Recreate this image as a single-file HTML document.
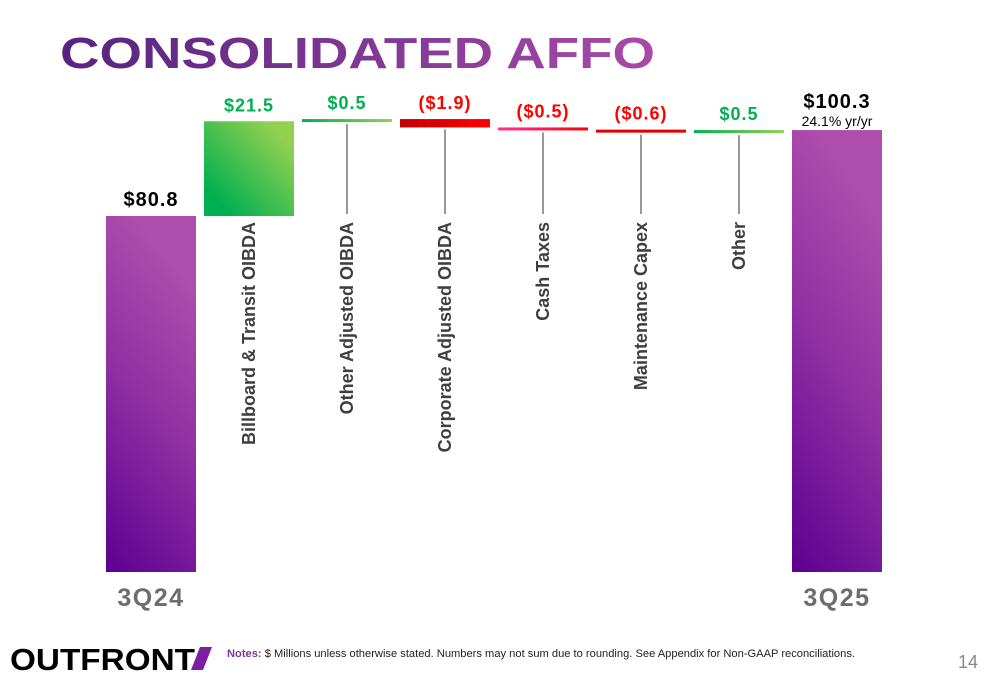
<!DOCTYPE html>
<html><head><meta charset="utf-8"><style>
html,body{margin:0;padding:0;background:#fff;width:1000px;height:685px;overflow:hidden}
svg{display:block}
</style></head><body>
<svg id="chart" width="1000" height="685" xmlns="http://www.w3.org/2000/svg" font-family="Liberation Sans, sans-serif">
<defs>
<linearGradient id="tg" x1="0" x2="1" y1="0" y2="0"><stop offset="0" stop-color="#55247e"/><stop offset="1" stop-color="#a84aa8"/></linearGradient>
<linearGradient id="pg" x1="0.3" y1="0" x2="0" y2="1"><stop offset="0" stop-color="#ad4eac"/><stop offset="0.45" stop-color="#8f2fa3"/><stop offset="1" stop-color="#5c0090"/></linearGradient>
<linearGradient id="gg" x1="1" y1="0" x2="0" y2="1"><stop offset="0.15" stop-color="#92d050"/><stop offset="0.85" stop-color="#00b050"/></linearGradient>
<linearGradient id="gl" x1="0" x2="1"><stop offset="0" stop-color="#00b050"/><stop offset="1" stop-color="#92d050"/></linearGradient>
<linearGradient id="rg" x1="0" x2="1"><stop offset="0" stop-color="#c00000"/><stop offset="1" stop-color="#ff0000"/></linearGradient>
<linearGradient id="pk" x1="0" x2="1"><stop offset="0" stop-color="#ff3399"/><stop offset="1" stop-color="#ff0000"/></linearGradient>
</defs>
<text x="60" y="68" font-size="44" font-weight="bold" fill="url(#tg)" textLength="595" lengthAdjust="spacingAndGlyphs">CONSOLIDATED AFFO</text>
<g id="bars"></g>
<g>
<text x="10" y="670" font-size="31" font-weight="bold" fill="#000" textLength="185" lengthAdjust="spacingAndGlyphs">OUTFRONT</text>
<polygon points="200,647 212,647 203,670 191,670" fill="#7a1fa2"/>
<text x="227" y="657" font-size="11" fill="#222" textLength="628" lengthAdjust="spacingAndGlyphs"><tspan fill="#7b3a96" font-weight="bold">Notes:</tspan> $ Millions unless otherwise stated. Numbers may not sum due to rounding. See Appendix for Non-GAAP reconciliations.</text>
<text x="958" y="668" font-size="18" fill="#888">14</text>
</g>
</svg>
<script>
const categories = ["3Q24","Billboard & Transit OIBDA","Other Adjusted OIBDA","Corporate Adjusted OIBDA","Cash Taxes","Maintenance Capex","Other","3Q25"];
const values = [80.8, 21.5, 0.5, -1.9, -0.5, -0.6, 0.5, 100.3];
const valueLabels = ["$80.8","$21.5","$0.5","($1.9)","($0.5)","($0.6)","$0.5","$100.3"];
const types = ["total","delta","delta","delta","delta","delta","delta","total"];
const NS="http://www.w3.org/2000/svg";
const g=document.getElementById('bars');
const base=572, k=356/80.8;
const y=v=>base-v*k;
const x0=106, step=98, bw=90;
function el(t,a){const e=document.createElementNS(NS,t);for(const n in a)e.setAttribute(n,a[n]);g.appendChild(e);return e;}
let cum=0;
const fills=[null,"url(#gg)","url(#gl)","url(#rg)","url(#pk)","#e00000","url(#gl)"];
categories.forEach((c,i)=>{
  const x=x0+i*step, cx=x+bw/2;
  let top,bot;
  if(types[i]==="total"){top=y(values[i]);bot=base;cum=values[i];}
  else{const a=cum,b=cum+values[i];cum=b;top=y(Math.max(a,b));bot=y(Math.min(a,b));}
  if(bot-top<3){bot=top+3;}
  const r=el('rect',{x:x,y:top,width:bw,height:bot-top,fill:types[i]==="total"?"url(#pg)":(values[i]>=0&&i===1?"url(#gg)":fills[i])});
  
  
  const col=types[i]==="total"?"#000":(values[i]>=0?"#00b050":"#ff0000");
  const vt=el('text',{x:cx,y:top-(types[i]==="total"&&i>0?22:10),'text-anchor':'middle','font-size':types[i]==="total"?20:18,'font-weight':'bold',fill:col,'letter-spacing':'1'});
  vt.textContent=valueLabels[i];
  
  
  if(types[i]==="total"){
    const ct=el('text',{x:cx,y:606,'text-anchor':'middle','font-size':25,'font-weight':'bold',fill:'#6d6d6d','letter-spacing':'1.5'});
    ct.textContent=c;
    
    
    if(i>0){
      const s=el('text',{x:cx,y:126,'text-anchor':'middle','font-size':14,fill:'#000'});
      s.textContent="24.1% yr/yr";
      
      
    }
  } else {
    if(i>1){
      const ln=el('line',{x1:cx,x2:cx,y1:bot+2,y2:214,stroke:'#333','stroke-width':1});
      
      
    }
    const lt=el('text',{transform:`translate(${cx+6},222) rotate(-90)`,'text-anchor':'end','font-size':18,'font-weight':'bold',fill:'#3f3f3f'});
    lt.textContent=c;
    
    
  }
});
</script>
</body></html>
